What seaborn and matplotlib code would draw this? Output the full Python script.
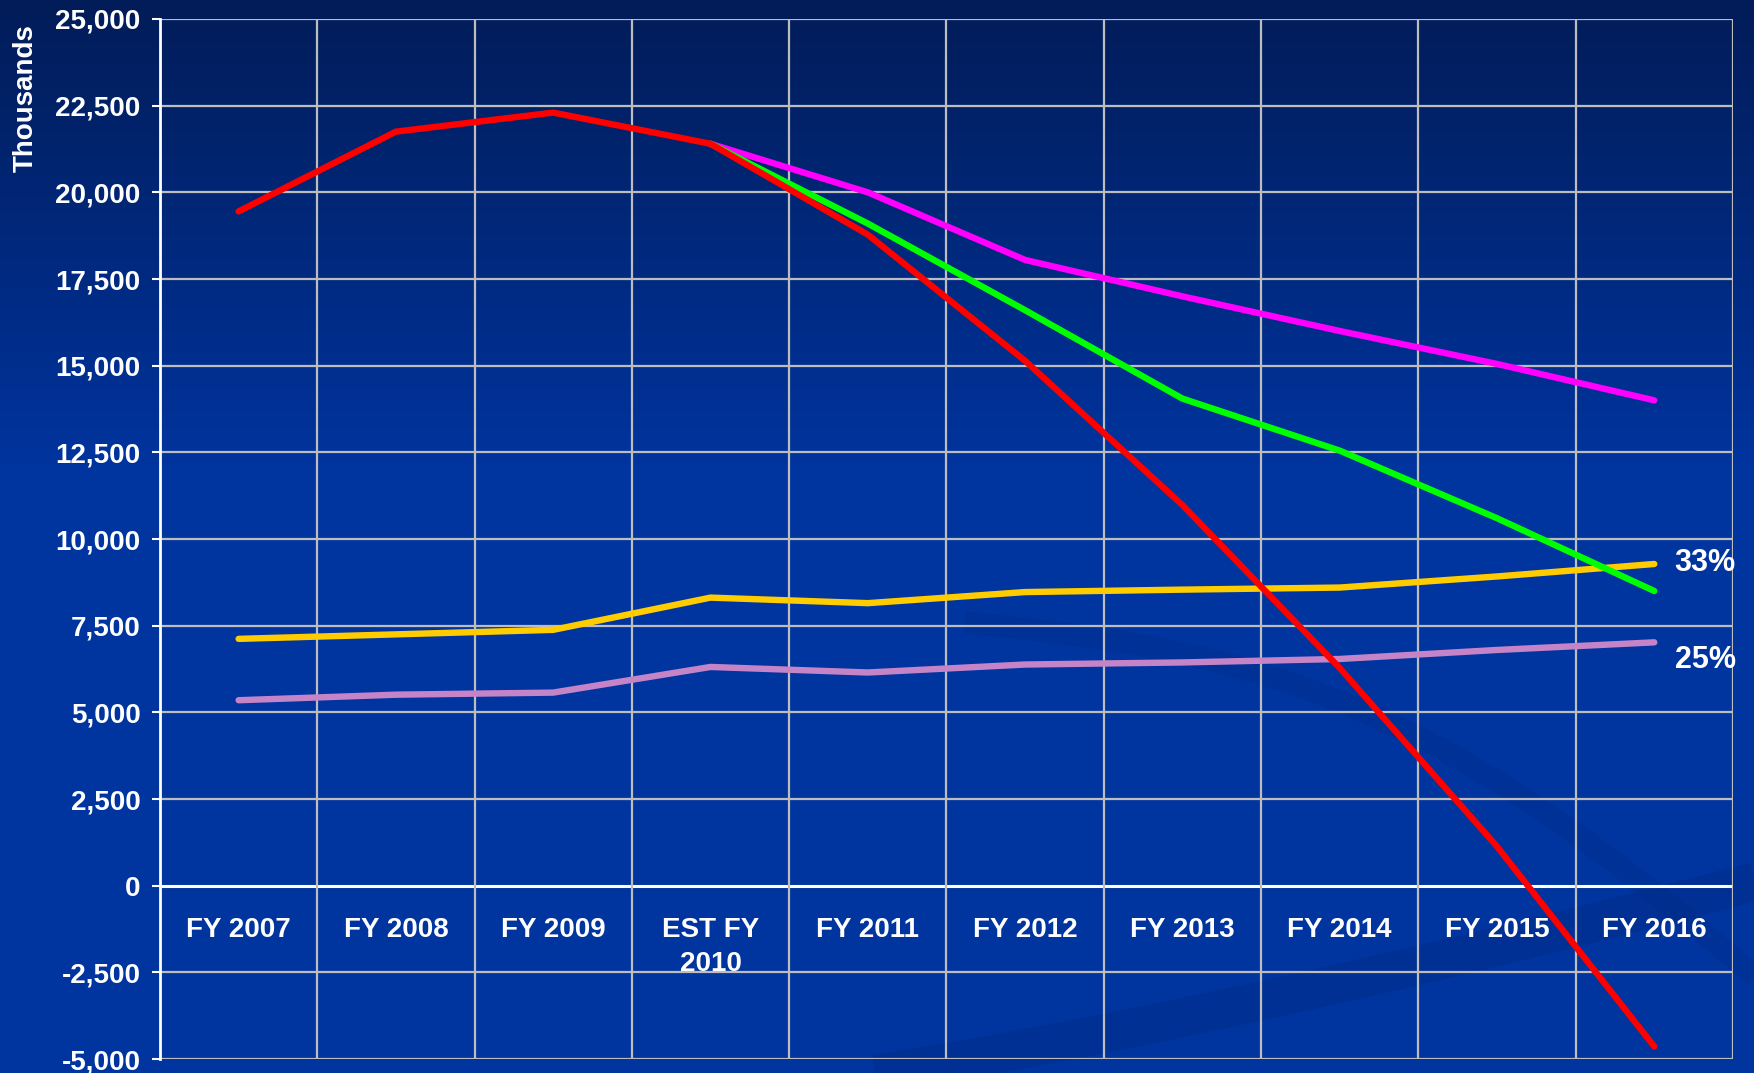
import numpy as np
import pandas as pd
import matplotlib
matplotlib.use("Agg")
import matplotlib.pyplot as plt
import seaborn as sns

years = ["FY 2007", "FY 2008", "FY 2009", "EST FY\n2010", "FY 2011",
         "FY 2012", "FY 2013", "FY 2014", "FY 2015", "FY 2016"]

red_vals = [19450, 21750, 22300, 21400, 18780, 15140, 10980, 6280, 1130, -4640]
green_vals = [np.nan, np.nan, np.nan, 21400, 19100, 16600, 14050, 12550, 10600, 8500]
magenta_vals = [np.nan, np.nan, np.nan, 21400, 20000, 18050, 17000, 16000, 15050, 14000]
yellow_vals = [7120, 7250, 7380, 8310, 8150, 8470, 8540, 8600, 8920, 9280]
lavender_vals = [5350, 5510, 5570, 6310, 6150, 6380, 6440, 6540, 6800, 7020]

series = {"25%": lavender_vals, "33%": yellow_vals, "High": magenta_vals,
          "Mid": green_vals, "Low": red_vals}
colors = {"25%": "#C584C8", "33%": "#FFCC00", "High": "#FF00FF",
          "Mid": "#00FF00", "Low": "#FF0000"}

rows = []
for name, vals in series.items():
    for i, v in enumerate(vals):
        if not np.isnan(v):
            rows.append({"pos": i, "year": years[i], "value": v, "series": name})
df = pd.DataFrame(rows)

sns.set_style("white")
plt.rcParams["font.family"] = ["Liberation Sans", "DejaVu Sans"]
plt.rcParams["font.weight"] = "bold"

fig = plt.figure(figsize=(17.54, 10.73), dpi=100)

# background gradient
bg = fig.add_axes([0, 0, 1, 1], zorder=-10)
grad = np.linspace(0, 1, 256).reshape(-1, 1)
top = np.array([0x02, 0x1C, 0x58]) / 255
bot = np.array([0x00, 0x34, 0x9E]) / 255
mix = np.clip(grad * 2.3, 0, 1)
img = top + (bot - top) * mix[..., None]
bg.imshow(img, aspect="auto", extent=[0, 1, 0, 1], origin="upper")
# faint decorative swooshes running off the edges
t = np.linspace(0, 1, 200)
bg.plot(0.40 + 0.65 * t, -0.02 + 0.22 * t ** 1.3, color="#00297f", lw=28,
        alpha=0.3, solid_capstyle="butt")
bg.plot(0.55 + 0.50 * t, 0.42 - 0.40 * t + 0.10 * np.sin(np.pi * t),
        color="#00297f", lw=16, alpha=0.22, solid_capstyle="butt")
bg.set_xlim(0, 1)
bg.set_ylim(0, 1)
bg.set_axis_off()

ax = fig.add_axes([0.0912, 0.013, 0.8968, 0.9693])
ax.set_facecolor("none")

sns.lineplot(data=df, x="pos", y="value", hue="series", palette=colors,
             hue_order=list(series.keys()), linewidth=4.6, legend=False,
             sort=False, ax=ax, solid_capstyle="round")

ax.set_xlim(-0.5, 9.5)
ax.set_ylim(-5000, 25000)
ax.set_yticks(np.arange(-5000, 25001, 2500))
ax.set_yticklabels([f"{int(v):,}" for v in np.arange(-5000, 25001, 2500)])
ax.set_xticks([])
ax.set_xlabel("")
ax.set_ylabel("")

for y in np.arange(-5000, 25001, 2500):
    ax.axhline(y, color="white" if y == 0 else "#BDBDBD",
               lw=2.2 if y == 0 else 1.6, zorder=0)
for x in np.arange(0.5, 9.6, 1):
    ax.axvline(x, color="#BDBDBD", lw=1.6, zorder=0)

for side in ["top", "right", "bottom"]:
    ax.spines[side].set_visible(False)
ax.spines["left"].set_color("white")
ax.spines["left"].set_linewidth(2)

ax.tick_params(axis="y", colors="white", labelsize=20, length=6, width=1.5,
               pad=8, left=True)
for lab in ax.get_yticklabels():
    lab.set_fontweight("bold")

for i, yr in enumerate(years):
    ax.text(i, -900, yr, ha="center", va="top", color="white", fontsize=20,
            fontweight="bold", linespacing=1.42)

ax.text(9.13, 9300, "33%", ha="left", va="center", color="white",
        fontsize=22, fontweight="bold", clip_on=False)
ax.text(9.13, 6520, "25%", ha="left", va="center", color="white",
        fontsize=22, fontweight="bold", clip_on=False)

fig.text(0.0148, 0.909, "Thousands", rotation=90, ha="center", va="center",
         color="white", fontsize=20, fontweight="bold")

fig.savefig("out.png", dpi=100)
